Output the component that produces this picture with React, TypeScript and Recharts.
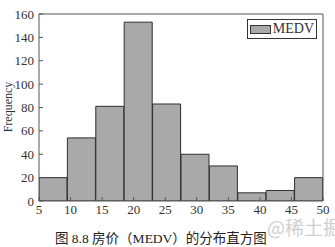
import React from 'react';
import { ComposedChart, Bar, Line, XAxis, YAxis } from 'recharts';

const binCenters = [7.25, 11.75, 16.25, 20.75, 25.25, 29.75, 34.25, 38.75, 43.25, 47.75];
const counts = [20, 54, 81, 153, 83, 40, 30, 7, 9, 20];
const xTicks = [5, 10, 15, 20, 25, 30, 35, 40, 45, 50];
const yTicks = [0, 20, 40, 60, 80, 100, 120, 140, 160];
const seriesName = 'MEDV';
const yLabel = 'Frequency';
const caption = '图 8.8 房价（MEDV）的分布直方图';
const watermark = '@稀土掘金技术社区';

const data = binCenters.map((c, i) => ({ x: c, count: counts[i] }));

const serif = '"Liberation Serif", "DejaVu Serif", serif';
const axisColor = '#555';
const tickStyle = { fontFamily: serif, fontSize: 13, fill: '#333' };

const LegendBox = () => (
  <div style={{ position: 'absolute', left: 247, top: 19, display: 'flex', alignItems: 'center', border: '1px solid #333', background: '#fff', padding: '1px 2px', width: 70, height: 20, boxSizing: 'border-box' as const }}>
    <div style={{ width: 22, height: 7, background: '#a9a9a9', border: '1px solid #333', marginRight: 2 }} />
    <span style={{ fontFamily: serif, fontSize: 14, color: '#333', lineHeight: '14px' }}>{seriesName}</span>
  </div>
);

export default function App() {
  return (
    <div style={{ position: 'absolute', left: 0, top: 0, width: 335, height: 247, background: '#fff', overflow: 'hidden' }}>
      <ComposedChart width={335} height={247} data={data} barCategoryGap={0} barGap={0} margin={{ top: 13, right: 11, bottom: 0, left: 0 }}>
        <XAxis xAxisId="num" dataKey="x" type="number" domain={[5, 50]} ticks={xTicks} orientation="bottom" height={46}
          stroke={axisColor} tickSize={-4} tickMargin={8} tick={tickStyle} interval={0} allowDataOverflow />
        <XAxis xAxisId="top" dataKey="x" type="number" domain={[5, 50]} ticks={xTicks} orientation="top" height={1}
          stroke={axisColor} tickSize={-4} tick={false} interval={0} allowDataOverflow />
        <YAxis yAxisId="l" domain={[0, 160]} ticks={yTicks} width={39} stroke={axisColor} tickSize={-4} tickMargin={9}
          tick={tickStyle} interval={0} allowDataOverflow />
        <YAxis yAxisId="r" orientation="right" domain={[0, 160]} ticks={yTicks} width={1} stroke={axisColor} tickSize={-4} tick={false} interval={0} allowDataOverflow />
        <Bar dataKey="count" name={seriesName} xAxisId="num" yAxisId="l" fill="#a9a9a9" stroke="#2e2e2e" strokeWidth={1} isAnimationActive={false} />
        <Line dataKey="count" xAxisId="top" yAxisId="r" stroke="none" dot={false} activeDot={false} legendType="none" isAnimationActive={false} />
      </ComposedChart>
      <LegendBox />
      <div style={{ position: 'absolute', left: 8, top: 107, width: 0, height: 0 }}>
        <div style={{ position: 'absolute', left: -40, top: -7, width: 80, textAlign: 'center', transform: 'rotate(-90deg)', fontFamily: serif, fontSize: 12, color: '#333', lineHeight: '14px' }}>{yLabel}</div>
      </div>
      <div style={{ position: 'absolute', left: 55, top: 227, fontFamily: '"Liberation Serif", "Noto Sans CJK SC", serif', fontSize: 13.5, color: '#222', whiteSpace: 'nowrap' }}>{caption}</div>
      <div style={{ position: 'absolute', left: 267, top: 213, fontFamily: '"Noto Sans CJK SC", sans-serif', fontSize: 19, color: '#d0d0d0', whiteSpace: 'nowrap' }}>{watermark}</div>
    </div>
  );
}
